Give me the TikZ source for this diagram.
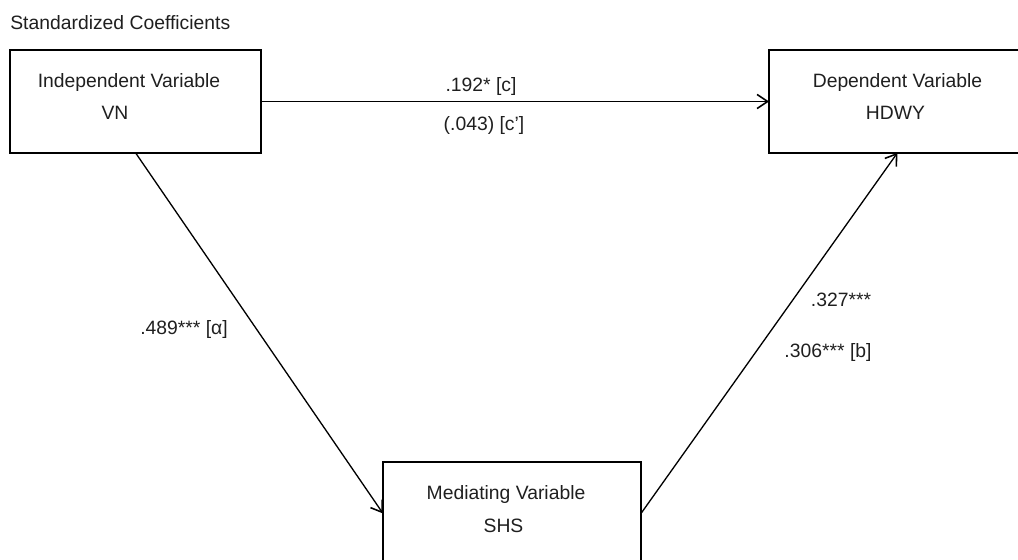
\documentclass[tikz,border=0pt]{standalone}
\usepackage{fontspec}
\setmainfont{Liberation Sans}
\usetikzlibrary{arrows.meta}
\tikzset{
    varbox/.style={draw, line width=1.1pt, inner sep=0pt, outer sep=0pt, minimum width=#1, minimum height=2.05cm},
    txt/.style={anchor=base, inner sep=0pt, font=\fontsize{11}{13}\selectfont, text=black!88},
    link/.style={->, line width=0.75pt, >={Straight Barb[length=6pt,width=8pt,line width=0.9pt]}}
}
\begin{document}
\begin{tikzpicture}[x=0.02cm, y=-0.02cm]
                    \useasboundingbox (0, 0) rectangle (1018, 560);
                    \node[txt, anchor=base west] (title) at (10, 30) {Standardized Coefficients};
                    \node[varbox=5.02cm] (indep) at (135.5, 101.5) {};
                    \node[varbox=5.14cm] (dep) at (897.5, 101.5) {};
                    \node[varbox=5.16cm] (med) at (512, 513.5) {};
                    \node[txt] (indepname) at (129, 88) {Independent Variable};
                    \node[txt] (indepvar) at (115, 120) {VN};
                    \node[txt] (depname) at (897.5, 88) {Dependent Variable};
                    \node[txt] (depvar) at (895.5, 120) {HDWY};
                    \node[txt] (medname) at (506, 500) {Mediating Variable};
                    \node[txt] (medvar) at (503.5, 532) {SHS};
                    \draw[link] (indep.east) -- (dep.west);
                    \draw[link] (indep.south) -- (med.west);
                    \draw[link] (med.east) -- (dep.south);
                    \node[txt] (ctotal) at (481, 92) {.192* [c]};
                    \node[txt] (cdirect) at (484, 131) {(.043) [c']};
                    \node[txt] (apath) at (184, 335) {.489*** [α]};
                    \node[txt] (bsimple) at (841, 307) {.327***};
                    \node[txt] (bpath) at (828, 358) {.306*** [b]};
                \end{tikzpicture}
\end{document}
